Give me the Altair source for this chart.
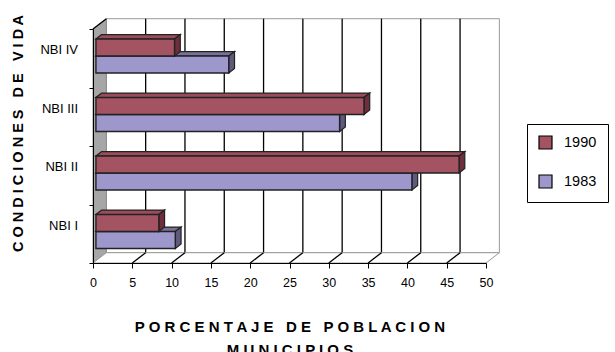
import altair as alt
import pandas as pd

# --- data -------------------------------------------------------------
categorias = ["NBI I", "NBI II", "NBI III", "NBI IV"]
serie_1990 = [8.0, 46.2, 34.1, 10.0]
serie_1983 = [10.1, 40.2, 31.0, 16.9]
anios = ["1990", "1983"]
marcas_x = [0, 5, 10, 15, 20, 25, 30, 35, 40, 45, 50]

# --- style ------------------------------------------------------------
ROJO, ROJO_TOP, ROJO_LADO = "#A35362", "#9A4C5B", "#6E2E3E"
AZUL, AZUL_TOP, AZUL_LADO = "#9D97CC", "#77729A", "#5F5B7E"
BORDE = "#222222"
FUENTE = "Liberation Sans"
NB = "\u00a0"

# oblique depth vector of the 3-D box, in data units (x, y)
DX, DY = 1.70, 0.176
F0, F1 = 0.22, 0.65          # front / back depth of the bars
BANDAS = {"1990": (0.50, 0.79), "1983": (0.21, 0.50)}

XS = alt.Scale(domain=[0, 50], nice=False, zero=False)
YS = alt.Scale(domain=[0, 4], nice=False, zero=False)


def espaciar(texto):
    return " ".join(c if c != " " else NB for c in texto)


# --- bar faces ----------------------------------------------------------
frente, tapa, lado = [], [], []
for i, cat in enumerate(categorias):
    for serie, valores in (("1990", serie_1990), ("1983", serie_1983)):
        v = valores[i]
        lo, hi = i + BANDAS[serie][0], i + BANDAS[serie][1]
        bid = f"{serie}-{cat}"
        frente.append(dict(serie=serie, cat=cat, valor=v,
                           x0=F0 * DX, x1=v + F0 * DX,
                           y0=lo + F0 * DY, y1=hi + F0 * DY))
        for f in (F0, F1):
            tapa.append(dict(serie=serie, id=bid, yy=hi + f * DY,
                             xa=f * DX, xb=v + f * DX))
            lado.append(dict(serie=serie, id=bid, xx=v + f * DX,
                             ya=lo + f * DY, yb=hi + f * DY))
frente = pd.DataFrame(frente)
tapa = pd.DataFrame(tapa)
lado = pd.DataFrame(lado)

# --- walls, floor and grid ----------------------------------------------
pared_fondo = pd.DataFrame([dict(bx0=DX, bx1=50 + DX, by0=DY, by1=4 + DY)])
pared_izq = pd.DataFrame([dict(xx=0, ya=0, yb=4), dict(xx=DX, ya=DY, yb=4 + DY)])
piso = pd.DataFrame([dict(yy=0, xa=0, xb=50), dict(yy=DY, xa=DX, xb=50 + DX)])
grilla = pd.DataFrame([dict(gx=g + DX, gy0=DY, gy1=4 + DY) for g in marcas_x[1:-1]])
diagonales = pd.DataFrame([dict(dx0=g, dx1=g + DX, dy0=0, dy1=DY) for g in marcas_x[1:-1]]
                          + [dict(dx0=0, dx1=DX, dy0=4, dy1=4 + DY)])
etiquetas = pd.DataFrame([dict(cat=c, ly=i + 0.5, lx=0) for i, c in enumerate(categorias)])

EJE_X = alt.Axis(values=marcas_x, grid=False, tickSize=5, tickColor="black",
                 domainColor="black", labelColor="black", labelFont=FUENTE,
                 labelFontSize=12.5, labelPadding=8, labelFlush=False,
                 title=[espaciar("PORCENTAJE DE POBLACION"), espaciar("MUNICIPIOS")],
                 titleFont=FUENTE, titleFontSize=15, titleFontWeight="bold",
                 titleColor="black", titleBaseline="top", titleY=56,
                 titleLineHeight=23, zindex=1)
EJE_Y = alt.Axis(values=[0, 1, 2, 3, 4], grid=False, labels=False, tickSize=4,
                 tickColor="black", domainColor="black",
                 title=espaciar("CONDICIONES DE VIDA"), titleFont=FUENTE,
                 titleFontSize=14.5, titleFontWeight="bold", titleColor="black",
                 titleAngle=270, titleAlign="center", titleBaseline="middle",
                 titleX=-75, titleY=104, zindex=1)


def X(campo):
    return alt.X(campo, type="quantitative", scale=XS, axis=EJE_X)


def Y(campo):
    return alt.Y(campo, type="quantitative", scale=YS, axis=EJE_Y)


fondo = alt.Chart(pared_fondo).mark_rect(fill="white", stroke="#9a9a9a", strokeWidth=1).encode(
    x=X("bx0"), x2="bx1", y=Y("by0"), y2="by1")

lineas_grilla = alt.Chart(grilla).mark_rule(color="black", strokeWidth=1.3).encode(
    x=X("gx"), y=Y("gy0"), y2="gy1")

pared = alt.Chart(pared_izq).mark_area(orient="vertical", fill="#A6A6A6",
                                        stroke="#8c8c8c", strokeWidth=1).encode(
    x=X("xx"), y=Y("ya"), y2="yb")

suelo = alt.Chart(piso).mark_area(orient="horizontal", fill="white",
                                   stroke="#9a9a9a", strokeWidth=1).encode(
    y=Y("yy"), x=X("xa"), x2="xb")

lineas_diag = alt.Chart(diagonales).mark_rule(color="black", strokeWidth=1.3).encode(
    x=X("dx0"), x2="dx1", y=Y("dy0"), y2="dy1")


def caras(serie, c_tapa, c_lado):
    t = alt.Chart(tapa).transform_filter(alt.datum.serie == serie).mark_area(
        orient="horizontal", fill=c_tapa, stroke=BORDE, strokeWidth=1.2,
        strokeJoin="miter").encode(
        y=Y("yy"), x=X("xa"), x2="xb", detail="id:N")
    l = alt.Chart(lado).transform_filter(alt.datum.serie == serie).mark_area(
        orient="vertical", fill=c_lado, stroke=BORDE, strokeWidth=1.2,
        strokeJoin="miter").encode(
        x=X("xx"), y=Y("ya"), y2="yb", detail="id:N")
    f = alt.Chart(frente).transform_filter(alt.datum.serie == serie).mark_rect(
        stroke=BORDE, strokeWidth=1.4).encode(
        x=X("x0"), x2="x1", y=Y("y0"), y2="y1",
        fill=alt.Fill("serie:N",
                      scale=alt.Scale(domain=anios, range=[ROJO, AZUL]),
                      legend=alt.Legend(title=None, orient="none",
                                        legendX=434, legendY=95,
                                        padding=11, strokeColor="black",
                                        fillColor="white",
                                        symbolType="square", symbolSize=169,
                                        symbolStrokeColor="black",
                                        symbolStrokeWidth=1.2,
                                        labelFont=FUENTE, labelFontSize=14.5,
                                        labelColor="black", labelOffset=11,
                                        rowPadding=20,
                                        labelExpr=f"datum.label + '{NB}{NB}{NB}{NB}'")))
    return [t, l, f]


textos_cat = alt.Chart(etiquetas).mark_text(
    align="right", baseline="middle", dx=-15, dy=-8, font=FUENTE, fontSize=13,
    color="black").encode(
    x=X("lx"), y=Y("ly"), text="cat:N")

chart = alt.layer(
    fondo, lineas_grilla, pared, suelo, lineas_diag,
    *caras("1983", AZUL_TOP, AZUL_LADO),
    *caras("1990", ROJO_TOP, ROJO_LADO),
    textos_cat,
).properties(
    width=393, height=234, autosize="none",
    padding={"left": 93, "top": 29, "right": 129, "bottom": 89},
    background="white",
).configure_view(stroke=None)

chart.save("out.html", embed_options={"renderer": "svg", "actions": False})
